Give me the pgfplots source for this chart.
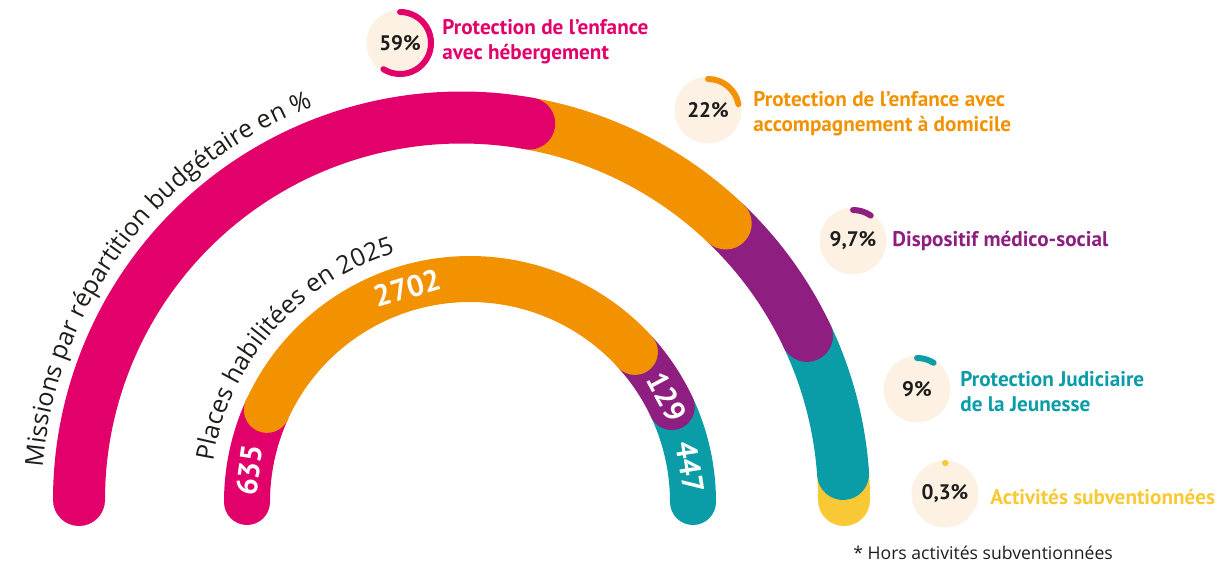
\documentclass[border=0pt]{standalone}
\usepackage{fontspec}
\setmainfont{Open Sans}
\newfontfamily\labfont{PT Sans}
\usepackage{pgfplots}
\pgfplotsset{compat=1.18}
\usepackage{pgfplotstable}
\usetikzlibrary{decorations.text}

\definecolor{opink}{HTML}{E2006A}
\definecolor{oorange}{HTML}{F39200}
\definecolor{opurple}{HTML}{8E1F80}
\definecolor{oteal}{HTML}{0A9DA8}
\definecolor{oyellow}{HTML}{F9C935}
\definecolor{ocream}{HTML}{FCF1E3}
\definecolor{odark}{HTML}{1D1D1B}

% outer arc: budget share (%), spans in degrees as drawn, listed in drawing order
\pgfplotstableread{
a1    a2    col
3.9   0     oyellow
25.4  3.9   oteal
46.3  25.4  opurple
79.8  46.3  oorange
180   79.8  opink
}\outerarc

% inner arc: places 2025, angle of the number label
\pgfplotstableread{
a1     a2     col      val   la
25.2   0      oteal    447   9.0
42.3   25.2   opurple  129   28.2
180    155.6  opink    635   171.8
155.6  42.3   oorange  2702  106.3
}\innerarc

% legend discs: position and percentage
\pgfplotstableread{
x    y    pct  col
400  526  59   opink
708  459  22   oorange
853  328  9.7  opurple
917  180  9    oteal
945  75   0.3  oyellow
}\legtab

\begin{document}
\begin{tikzpicture}
\begin{axis}[
    x=0.5pt, y=0.5pt,
    xmin=0, xmax=1221, ymin=0, ymax=569,
    hide axis, clip=false, set layers=standard,
]
% legend discs (behind)
\addplot[only marks, mark=*, mark size=16.5pt, color=ocream,
  on layer=axis background, mark layer=axis background] table[x=x, y=y] {\legtab};

% outer arc
\pgfplotsinvokeforeach{0,...,4}{
  \pgfplotstablegetelem{#1}{a1}\of\outerarc \let\aa\pgfplotsretval
  \pgfplotstablegetelem{#1}{a2}\of\outerarc \let\ab\pgfplotsretval
  \pgfplotstablegetelem{#1}{col}\of\outerarc \let\cc\pgfplotsretval
  \edef\temp{\noexpand\draw[color=\cc, line width=26pt, line cap=round]
    ([shift={(\aa:191.25pt)}]axis cs:461.5,69) arc[start angle=\aa, end angle=\ab, radius=191.25pt];}
  \temp
}
% inner arc
\pgfplotsinvokeforeach{0,...,3}{
  \pgfplotstablegetelem{#1}{a1}\of\innerarc \let\aa\pgfplotsretval
  \pgfplotstablegetelem{#1}{a2}\of\innerarc \let\ab\pgfplotsretval
  \pgfplotstablegetelem{#1}{col}\of\innerarc \let\cc\pgfplotsretval
  \edef\temp{\noexpand\draw[color=\cc, line width=23pt, line cap=round]
    ([shift={(\aa:111.5pt)}]axis cs:470,67) arc[start angle=\aa, end angle=\ab, radius=111.5pt];}
  \temp
}
\pgfplotsinvokeforeach{0,...,3}{
  \pgfplotstablegetelem{#1}{val}\of\innerarc \let\vv\pgfplotsretval
  \pgfplotstablegetelem{#1}{la}\of\innerarc \let\ll\pgfplotsretval
  \pgfmathsetmacro\rr{\ll-90}
  \edef\temp{\noexpand\node[text=white, rotate=\rr, font=\noexpand\labfont\noexpand\bfseries\noexpand\fontsize{15}{17}\noexpand\selectfont]
    at ([shift={(\ll:111.5pt)}]axis cs:470,67) {\vv};}
  \temp
}

% texts along the arcs
\path[decorate, decoration={text along path, text align=left,
    text={|\fontsize{12.5}{15}\selectfont\color{odark}|Missions par répartition budgétaire en {\%}}}]
  ([shift={(175.5:210pt)}]axis cs:461.5,69) arc[start angle=175.5, end angle=95, radius=210pt];
\path[decorate, decoration={text along path, text align=left,
    text={|\fontsize{12.5}{15}\selectfont\color{odark}|Places habilitées en 2025}}]
  ([shift={(171:130pt)}]axis cs:470,67) arc[start angle=171, end angle=90, radius=130pt];

% legend rings
\pgfplotsinvokeforeach{0,...,4}{
  \pgfplotstablegetelem{#1}{x}\of\legtab \let\lx\pgfplotsretval
  \pgfplotstablegetelem{#1}{y}\of\legtab \let\ly\pgfplotsretval
  \pgfplotstablegetelem{#1}{pct}\of\legtab \let\pp\pgfplotsretval
  \pgfplotstablegetelem{#1}{col}\of\legtab \let\cc\pgfplotsretval
  \pgfmathsetmacro\ea{90-3.6*\pp}
  \edef\temp{\noexpand\draw[color=\cc, line width=3pt, line cap=round]
    ([shift={(90:15.5pt)}]axis cs:\lx,\ly) arc[start angle=90, end angle=\ea, radius=15.5pt];}
  \temp
}
\begin{scope}[every node/.style={font=\labfont\bfseries\fontsize{10.5}{12}\selectfont, text=odark}]
\node at (axis cs:400,526) {59\%};
\node at (axis cs:708,459) {22\%};
\node at (axis cs:853,328) {9,7\%};
\node at (axis cs:917,180) {9\%};
\node at (axis cs:945,75) {0,3\%};
\end{scope}
\begin{scope}[every node/.style={font=\labfont\bfseries\fontsize{10.6}{12.5}\selectfont, anchor=west, align=left, inner sep=0pt}]
\node[text=opink] at (axis cs:442,527) {Protection de l’enfance\\avec hébergement};
\node[text=oorange] at (axis cs:753,455) {Protection de l’enfance avec\\accompagnement à domicile};
\node[text=opurple] at (axis cs:892,328) {Dispositif médico-social};
\node[text=oteal] at (axis cs:960,177) {Protection Judiciaire\\de la Jeunesse};
\node[text=oyellow] at (axis cs:990,72) {Activités subventionnées};
\end{scope}
\node[anchor=west, inner sep=0pt, text=odark, font=\fontsize{8.8}{10}\selectfont] at (axis cs:853,16) {* Hors activités subventionnées};
\end{axis}
\pgfresetboundingbox
\useasboundingbox (current axis.south west) rectangle (current axis.north east);
\end{tikzpicture}
\end{document}
